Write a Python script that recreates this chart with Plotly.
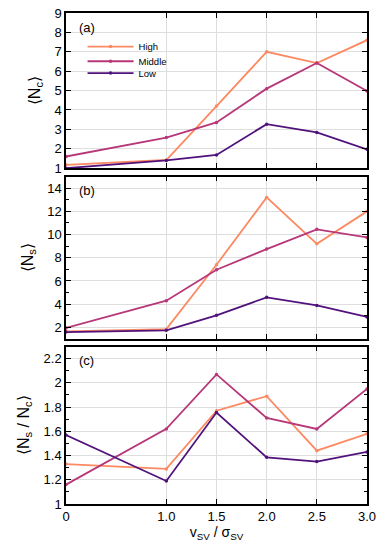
import plotly.graph_objects as go
from plotly.subplots import make_subplots

x_vals = [0, 1.0, 1.5, 2.0, 2.5, 3.0]
x_ticktext = ["0", "1.0", "1.5", "2.0", "2.5", "3.0"]
series_names = ["High", "Middle", "Low"]
colors = ["#FC8961", "#B73779", "#51127C"]

nc_high = [1.17, 1.42, 4.2, 7.0, 6.42, 7.6]
nc_middle = [1.6, 2.58, 3.36, 5.1, 6.42, 4.98]
nc_low = [1.0, 1.4, 1.68, 3.27, 2.84, 1.97]

ns_high = [1.65, 1.85, 7.4, 13.2, 9.2, 12.0]
ns_middle = [1.95, 4.3, 6.97, 8.75, 10.45, 9.75]
ns_low = [1.6, 1.75, 3.04, 4.59, 3.89, 2.9]

ratio_high = [1.33, 1.29, 1.77, 1.89, 1.44, 1.58]
ratio_middle = [1.16, 1.62, 2.07, 1.71, 1.62, 1.95]
ratio_low = [1.57, 1.19, 1.755, 1.385, 1.35, 1.43]

panels = [
    [nc_high, nc_middle, nc_low],
    [ns_high, ns_middle, ns_low],
    [ratio_high, ratio_middle, ratio_low],
]
panel_labels = ["(a)", "(b)", "(c)"]
y_titles = ["⟨N<sub>c</sub>⟩", "⟨N<sub>s</sub>⟩", "⟨N<sub>s</sub> / N<sub>c</sub>⟩"]
legend_ids = ["legend", "legend2", "legend3"]
legend_y = [0.9317, 0.9017, 0.8776]

FONT = "Liberation Sans, Arial, sans-serif"

fig = make_subplots(rows=3, cols=1, shared_xaxes=False, vertical_spacing=0.02)

for r, data in enumerate(panels, start=1):
    for name, col, ys, lid in zip(series_names, colors, data, legend_ids):
        fig.add_trace(go.Scatter(
            x=x_vals, y=ys, mode="lines+markers", name=name,
            line=dict(color=col, width=1.8),
            marker=dict(color=col, size=3.5),
            showlegend=(r == 1), legend=lid,
        ), row=r, col=1)

fig.update_layout(
    yaxis=dict(domain=[0.684, 1.0]),
    yaxis2=dict(domain=[0.336, 0.667]),
    yaxis3=dict(domain=[0.0, 0.3207]),
)

axis_common = dict(
    showline=True, linecolor="black", linewidth=1.5, mirror="ticks",
    ticks="inside", ticklen=5, tickcolor="black", tickwidth=1,
    showgrid=True, gridcolor="#dedede", gridwidth=1, zeroline=False,
    tickfont=dict(family=FONT, size=13, color="black"),
)

for r in range(1, 4):
    fig.update_xaxes(
        range=[0, 3], tickvals=x_vals, ticktext=x_ticktext,
        showticklabels=(r == 3), row=r, col=1, **axis_common,
    )

fig.update_yaxes(range=[1, 9], dtick=1, tick0=1, row=1, col=1, **axis_common)
fig.update_yaxes(range=[1, 15], tickvals=[2, 4, 6, 8, 10, 12, 14],
                 minor=dict(tickvals=[3, 5, 7, 9, 11, 13], ticks="inside", ticklen=3,
                            tickcolor="black", showgrid=False),
                 row=2, col=1, **axis_common)
fig.update_yaxes(range=[1, 2.3], tickvals=[1, 1.2, 1.4, 1.6, 1.8, 2, 2.2],
                 minor=dict(tickvals=[1.1, 1.3, 1.5, 1.7, 1.9, 2.1], ticks="inside", ticklen=3,
                            tickcolor="black", showgrid=False),
                 row=3, col=1, **axis_common)

for r, t in enumerate(y_titles, start=1):
    fig.update_yaxes(title=dict(text=t, font=dict(family=FONT, size=16, color="black"), standoff=10),
                     row=r, col=1)

fig.update_xaxes(title=dict(text="v<sub>SV</sub> / σ<sub>SV</sub>",
                            font=dict(family=FONT, size=14, color="black"), standoff=0),
                 row=3, col=1)

for r, lab in enumerate(panel_labels, start=1):
    xref = "x domain" if r == 1 else f"x{r} domain"
    yref = "y domain" if r == 1 else f"y{r} domain"
    fig.add_annotation(text=lab, x=0.035, y=0.97, xref=xref, yref=yref,
                       xanchor="left", yanchor="top", showarrow=False,
                       font=dict(family=FONT, size=13, color="black"))

legend_common = dict(xref="paper", yref="paper", x=0.055, xanchor="left", yanchor="middle",
                     bgcolor="rgba(255,255,255,0)",
                     font=dict(family=FONT, size=9.5, color="black"),
                     itemwidth=46)
fig.update_layout(
    width=389, height=556,
    margin=dict(l=66, r=22, t=6, b=52),
    paper_bgcolor="white", plot_bgcolor="white",
    font=dict(family=FONT, color="black"),
    legend=dict(y=legend_y[0], **legend_common),
    legend2=dict(y=legend_y[1], **legend_common),
    legend3=dict(y=legend_y[2], **legend_common),
)

fig.write_html("out.html", config={"displayModeBar": False},
               post_script="document.body.style.margin='0';")
